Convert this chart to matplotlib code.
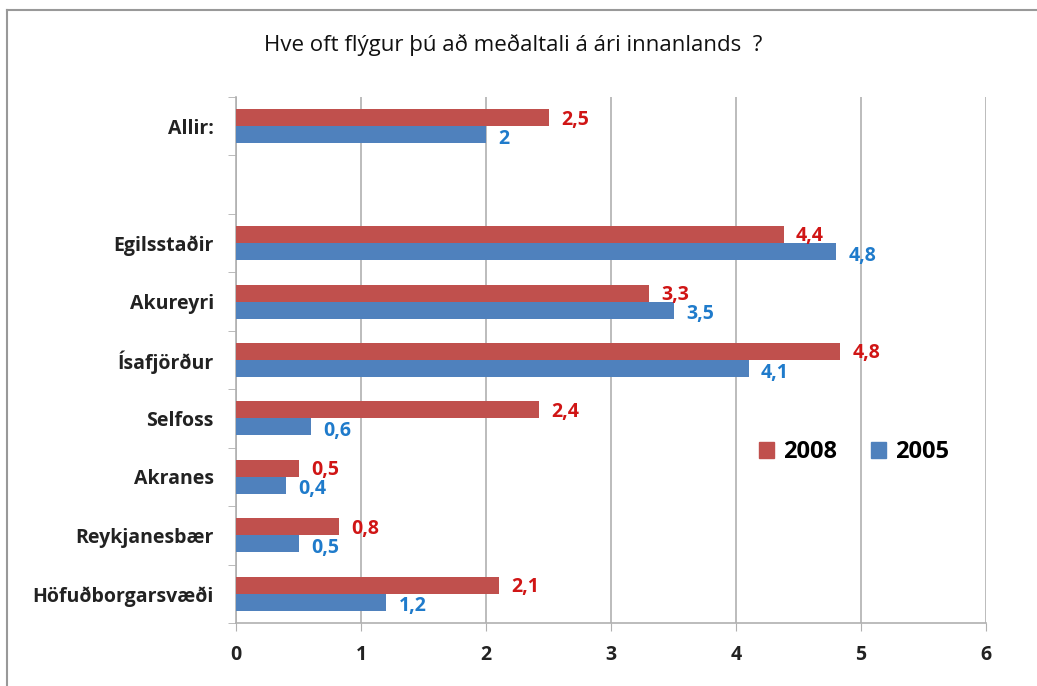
import numpy as np
import matplotlib.pyplot as plt
from matplotlib.lines import Line2D
from matplotlib.patches import Patch

plt.rcParams['font.family'] = ['Open Sans', 'DejaVu Sans']

# Data (bottom to top); empty slot between regions and "Allir:"
categories = ["Höfuðborgarsvæði", "Reykjanesbær", "Akranes", "Selfoss",
              "Ísafjörður", "Akureyri", "Egilsstaðir", "", "Allir:"]
vals_2008 = [2.1, 0.82, 0.5, 2.42, 4.83, 3.3, 4.38, None, 2.5]
vals_2005 = [1.2, 0.5, 0.4, 0.6, 4.1, 3.5, 4.8, None, 2.0]
labels_2008 = ["2,1", "0,8", "0,5", "2,4", "4,8", "3,3", "4,4", "", "2,5"]
labels_2005 = ["1,2", "0,5", "0,4", "0,6", "4,1", "3,5", "4,8", "", "2"]
xticks = [0, 1, 2, 3, 4, 5, 6]

RED = "#C0504D"
BLUE = "#4F81BD"
RED_TXT = "#D01515"
BLUE_TXT = "#1F7BCB"
GRID = "#B0B0B0"

fig = plt.figure(figsize=(10.37, 6.86), dpi=100)
ax = fig.add_axes([236/1037, 1 - 623/686, 750/1037, 526/686])

y = np.arange(len(categories))
h = 0.29
for i in range(len(categories)):
    if vals_2008[i] is None:
        continue
    ax.barh(y[i] + h/2, vals_2008[i], height=h, color=RED, zorder=3)
    ax.barh(y[i] - h/2, vals_2005[i], height=h, color=BLUE, zorder=3)
    ax.text(vals_2008[i] + 0.1, y[i] + h/2 - 0.03, labels_2008[i], color=RED_TXT,
            fontsize=14, fontweight='bold', va='center', ha='left')
    ax.text(vals_2005[i] + 0.1, y[i] - h/2 - 0.07, labels_2005[i], color=BLUE_TXT,
            fontsize=14, fontweight='bold', va='center', ha='left')

ax.set_xlim(0, 6)
ax.set_ylim(-0.5, len(categories) - 0.5)
ax.set_xticks(xticks)
ax.set_xticklabels([str(t) for t in xticks], fontsize=14, fontweight='bold', color='#222222')
ax.set_yticks(y)
ax.set_yticklabels(categories, fontsize=14, fontweight='bold', color='#222222')
ax.tick_params(axis='y', length=0, pad=16)
ax.tick_params(axis='x', length=6, color=GRID, direction='out', pad=10)
ax.set_yticks(np.arange(-0.5, len(categories), 1), minor=True)
ax.tick_params(axis='y', which='minor', length=6, color=GRID)
ax.grid(axis='x', color=GRID, linewidth=1.2, zorder=0)
for s in ['top', 'right']:
    ax.spines[s].set_visible(False)
for s in ['left', 'bottom']:
    ax.spines[s].set_color(GRID)
    ax.spines[s].set_linewidth(1.2)

handles = [Patch(color=RED), Patch(color=BLUE)]
fig.legend(handles, ["2008", "2005"], loc='center', bbox_to_anchor=(854/1037, 1 - 452/686),
           ncol=2, frameon=False, prop={'size': 17, 'weight': 'bold'},
           handlelength=0.65, handleheight=0.65, handletextpad=0.4, columnspacing=1.4)

fig.text(513/1037, 1 - 45/686, "Hve oft flýgur þú að meðaltali á ári innanlands  ?",
         ha='center', va='center', fontsize=16, color='#111111')

# outer chart border (top and left visible)
fig.add_artist(Line2D([7/1037, 1], [1 - 10/686, 1 - 10/686], color='#999999', linewidth=1.5))
fig.add_artist(Line2D([7/1037, 7/1037], [0, 1 - 10/686], color='#999999', linewidth=1.5))

fig.savefig("out.png", dpi=100)
